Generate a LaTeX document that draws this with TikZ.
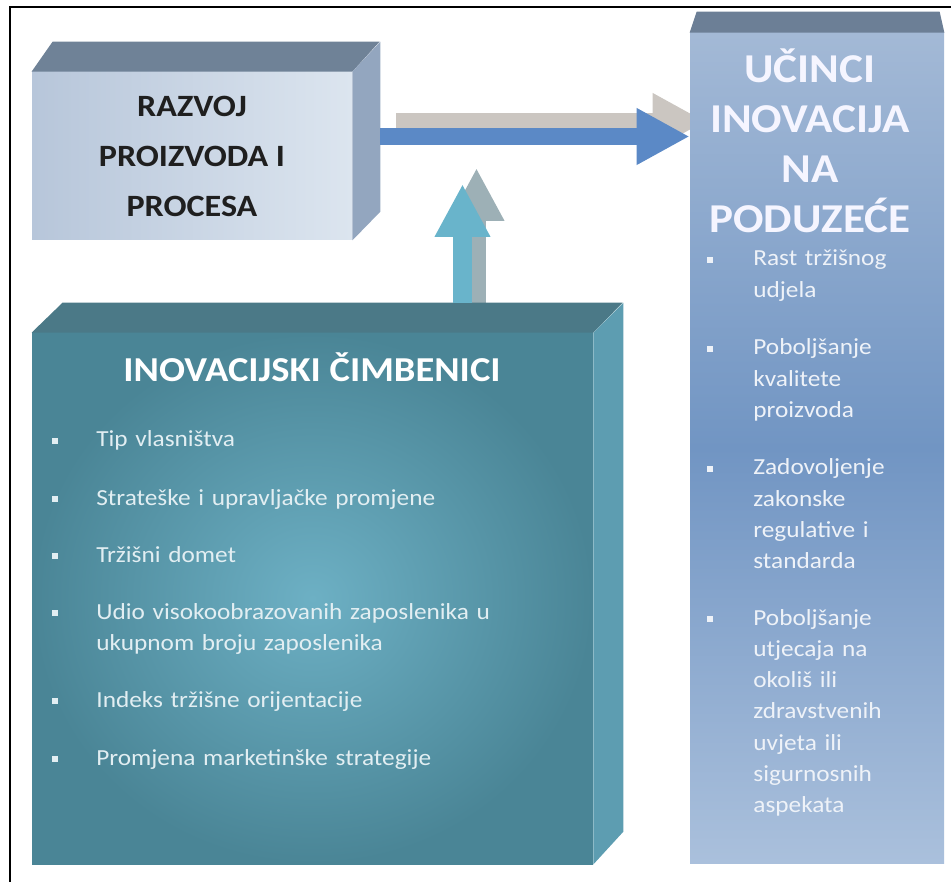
\documentclass[tikz,border=0pt]{standalone}
\usepackage{fontspec}
\setmainfont{Carlito}[FakeStretch=1.1]
\usetikzlibrary{arrows.meta,backgrounds}

\definecolor{razleft}{HTML}{B7C6DA}
\definecolor{razright}{HTML}{DCE5EF}
\definecolor{raztop}{HTML}{6F8297}
\definecolor{razside}{HTML}{93A6BF}
\definecolor{cimbinner}{HTML}{6DB0C4}
\definecolor{cimbouter}{HTML}{4A8596}
\definecolor{cimbtop}{HTML}{4B7987}
\definecolor{cimbside}{HTML}{5D9DB1}
\definecolor{ucitop}{HTML}{A3B9D6}
\definecolor{ucimid}{HTML}{7195C3}
\definecolor{ucibot}{HTML}{AAC0DC}
\definecolor{ucilid}{HTML}{6C7F96}
\definecolor{arrblue}{HTML}{5B89C6}
\definecolor{arrcyan}{HTML}{69B4CB}
\definecolor{shadowwarm}{HTML}{CBC6C1}
\definecolor{shadowcool}{HTML}{9DB0B6}
\definecolor{itemleft}{HTML}{E2EEF2}
\definecolor{itemright}{HTML}{EEF2F8}

\begin{document}
\begin{tikzpicture}
[x=1pt, y=-1pt, line width=0.75pt,
face/.style={rectangle, inner sep=0pt},
blockh/.style={line width=17pt, -{Triangle[length=53pt, width=53pt]}},
blockv/.style={line width=19pt, -{Triangle[length=53pt, width=52pt]}},
sqbullet/.style={rectangle, inner sep=0pt, minimum size=6.5pt},
lefttxt/.style={inner sep=0pt, text width=480pt, align=left, text=itemleft, font=\fontsize{23}{31}\selectfont},
righttxt/.style={inner sep=0pt, text width=185pt, align=left, text=itemright, font=\fontsize{23}{31.3}\selectfont}]

\useasboundingbox (0,0) rectangle (951,882);
\draw[line width=2pt] (10,882) -- (10,7) -- (951,7);

% boxes
\node[face, minimum width=320pt, minimum height=168pt, left color=razleft, right color=razright,
      align=center, text=black!88, font=\bfseries\fontsize{31}{50}\selectfont] (razvoj) at (192,156)
      {RAZVOJ\\PROIZVODA I\\PROCESA};
\fill[raztop] (razvoj.north west) -- ++(21,-30) -- ++(327,0) -- (razvoj.north east) -- cycle;
\fill[razside] (razvoj.north east) -- ++(28,-30) -- ++(0,170) -- (razvoj.south east) -- cycle;

\node[face, minimum width=561pt, minimum height=531pt, inner color=cimbinner, outer color=cimbouter] (cimbenici) at (312.5,598.5) {};
\fill[cimbtop] (cimbenici.north west) -- ++(31,-30) -- ++(560,0) -- (cimbenici.north east) -- cycle;
\fill[cimbside] (cimbenici.north east) -- ++(30,-30) -- ++(0,529) -- (cimbenici.south east) -- cycle;

\node[face, minimum width=254pt, minimum height=830pt, top color=ucitop, bottom color=ucibot, middle color=ucimid] (ucinci) at (817,448) {};
\fill[ucilid] (ucinci.north west) -- ++(7,-21) -- ++(243,0) -- (ucinci.north east) -- cycle;

% arrows
\coordinate (hstart) at ([shift={(28,-19.5)}]razvoj.east);
\coordinate (htip) at (hstart -| ucinci.west);
\coordinate (vstart) at ([shift={(150,-30)}]cimbenici.north);
\coordinate (vtip) at (462.5,184);

\begin{scope}[on background layer]
\draw[blockh, shadowwarm] ([shift={(16,-15)}]hstart) -- ([shift={(16,-15)}]htip);
\draw[blockv, shadowcool] ([xshift=14pt]vstart) -- ([shift={(14,-16)}]vtip);
\end{scope}
\draw[blockh, arrblue] (hstart) -- (htip);
\draw[blockv, arrcyan] (vstart) -- (vtip);

% texts
\node[anchor=base, text=white, font=\bfseries\fontsize{35}{40}\selectfont] (cimbtitle) at (312,382) {INOVACIJSKI ČIMBENICI};
\node[anchor=base, text width=250pt, align=center, text=white!96!blue, font=\bfseries\fontsize{41}{50}\selectfont] (ucititle) at (810,83)
     {UČINCI\\INOVACIJA\\NA\\PODUZEĆE};

\foreach \y/\t [count=\i] in {447/Tip vlasništva, 505/Strateške i upravljačke promjene, 562/Tržišni domet,
    619/Udio visokoobrazovanih zaposlenika u\\ukupnom broju zaposlenika, 707/Indeks tržišne orijentacije,
    765/Promjena marketinške strategije} {
  \node[sqbullet, fill=itemleft] (lbul\i) at (55,\y-6) {};
  \node[lefttxt, anchor=base west] (litem\i) at (96,\y) {\t};
}

\foreach \y/\t [count=\i] in {266/Rast tržišnog\\udjela, 355/Poboljšanje\\kvalitete\\proizvoda,
    475/Zadovoljenje\\zakonske\\regulative i\\standarda,
    625/Poboljšanje\\utjecaja na\\okoliš ili\\zdravstvenih\\uvjeta ili\\sigurnosnih\\aspekata} {
  \node[sqbullet, fill=itemright] (rbul\i) at (710,\y-6) {};
  \node[righttxt, anchor=base west] (ritem\i) at (753,\y) {\t};
}
\end{tikzpicture}
\end{document}
